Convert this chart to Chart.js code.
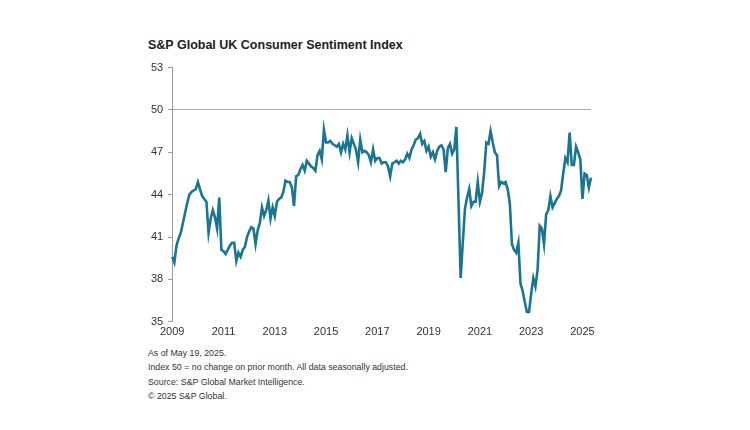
<!DOCTYPE html>
<html>
<head>
<meta charset="utf-8">
<script src="https://cdn.jsdelivr.net/npm/chart.js@4.4.1/dist/chart.umd.min.js"></script>
<style>
  body { margin: 0; background: #fff; font-family: "Liberation Sans", Arial, sans-serif; }
  #wrap { position: relative; width: 750px; height: 430px; }
  #title { position: absolute; left: 148px; top: 38px; font-size: 12.5px; font-weight: bold; color: #222; }
  #box { position: absolute; left: 146px; top: 56px; width: 453px; height: 287px; }
  #notes { position: absolute; left: 148px; top: 346px; font-size: 8.8px; color: #333; line-height: 14.3px; }
</style>
</head>
<body>
<div id="wrap">
  <div id="title">S&amp;P Global UK Consumer Sentiment Index</div>
  <div id="box"><canvas id="mycanvas"></canvas></div>
  <div id="notes">
    As of May 19, 2025.<br>
    Index 50 = no change on prior month. All data seasonally adjusted.<br>
    Source: S&amp;P Global Market Intelligence.<br>
    &copy; 2025 S&amp;P Global.
  </div>
</div>
<script>
// monthly, Jan 2009 .. May 2025
var startYear = 2009;
var values2009_2012 = [
	39.6, 39.2, 40.4, 40.9, 41.3, 42.0, 42.7, 43.4, 44.0, 44.2, 44.3, 44.4,
	44.9, 44.4, 43.9, 43.7, 43.5, 41.3, 42.3, 42.9, 42.4, 41.6, 43.8, 40.1,
	40.0, 39.8, 40.1, 40.4, 40.6, 40.6, 39.3, 39.9, 39.6, 40.1, 40.3, 41.0,
	41.4, 41.7, 41.6, 40.5, 41.5, 42.0, 43.1, 42.5, 42.9, 43.6, 42.3, 43.1
];
var values2013_2016 = [
	42.5, 43.5, 43.7, 43.8, 44.2, 45.0, 44.9, 44.9, 44.5, 43.2, 45.3, 45.4,
	45.8, 46.1, 45.7, 46.4, 46.2, 46.0, 45.9, 45.7, 46.8, 47.1, 46.5, 48.6,
	47.7, 47.7, 47.8, 47.6, 47.5, 47.4, 47.6, 47.0, 47.6, 47.2, 48.2, 47.0,
	48.0, 47.6, 47.2, 46.3, 47.9, 47.0, 47.1, 47.0, 46.8, 46.3, 47.2, 46.4
];
var values2017_2020 = [
	46.6, 46.6, 46.2, 46.3, 46.3, 46.0, 45.3, 46.2, 46.3, 46.4, 46.2, 46.4,
	46.3, 46.5, 46.9, 46.6, 47.2, 47.5, 47.9, 48.0, 48.3, 47.6, 47.8, 47.1,
	47.4, 46.7, 47.0, 46.5, 47.1, 47.4, 47.5, 47.2, 45.6, 47.3, 47.6, 46.9,
	47.2, 48.8, 43.5, 38.1, 40.6, 43.0, 43.8, 44.4, 43.2, 43.5, 43.5, 44.9
];
var values2021_2025 = [
	43.5, 44.1, 45.6, 47.7, 47.6, 48.5, 47.7, 47.0, 46.8, 44.6, 44.9, 44.8,
	44.9, 44.4, 43.4, 40.5, 40.1, 39.9, 40.6, 37.7, 37.2, 36.4, 35.7, 35.7,
	37.0, 38.1, 37.5, 38.7, 41.8, 41.6, 40.5, 42.6, 42.9, 43.9, 43.1, 43.4,
	43.7, 43.9, 44.3, 45.5, 46.6, 46.3, 48.4, 46.1, 46.1, 47.4, 47.0, 46.5,
	43.7, 45.5, 45.4, 44.5, 45.2
];
var yTicks = [35, 38, 41, 44, 47, 50, 53];

var sentiment = values2009_2012.concat(values2013_2016, values2017_2020, values2021_2025);
var months = [];
for (var i = 0; i < sentiment.length; i++) {
	var yr = startYear + Math.floor(i / 12);
	var mo = (i % 12) + 1;
	months.push(yr + "-" + (mo < 10 ? "0" + mo : mo));
}

var ctx = document.getElementById("mycanvas");
new Chart(ctx, {
	type: 'line',
	data: {
		labels: months,
		datasets: [{
			label: 'UK Consumer Sentiment Index',
			data: sentiment,
			borderColor: '#1a7591',
			borderWidth: 2.6,
			pointRadius: 0,
			tension: 0,
			fill: false
		}]
	},
	options: {
		responsive: true,
		maintainAspectRatio: false,
		animation: false,
		layout: { padding: { left: 0, right: 8, top: 2, bottom: 0 } },
		plugins: { legend: { display: false }, tooltip: { enabled: false } },
		scales: {
			x: {
				type: 'category',
				offset: false,
				border: { display: false },
				grid: { display: false, drawTicks: false },
				ticks: {
					autoSkip: false,
					maxRotation: 0,
					padding: 4,
					color: '#333',
					font: { family: 'Liberation Sans', size: 11 },
					callback: function(v, idx) {
						var lab = months[idx];
						if (lab.slice(5) === "01" && (parseInt(lab) - startYear) % 2 === 0) return lab.slice(0, 4);
						return null;
					}
				}
			},
			y: {
				min: 35,
				max: 53,
				afterBuildTicks: function(axis) {
					axis.ticks = yTicks.map(function(v) { return { value: v }; });
				},
				border: { display: true, color: '#999', width: 1 },
				grid: {
					drawOnChartArea: true,
					tickLength: 4,
					color: function(c) { return c.tick && c.tick.value === 50 ? '#aaa' : 'rgba(0,0,0,0)'; },
					tickColor: '#999'
				},
				ticks: {
					padding: 5,
					color: '#333',
					font: { family: 'Liberation Sans', size: 11 }
				}
			}
		}
	}
});
</script>
</body>
</html>
